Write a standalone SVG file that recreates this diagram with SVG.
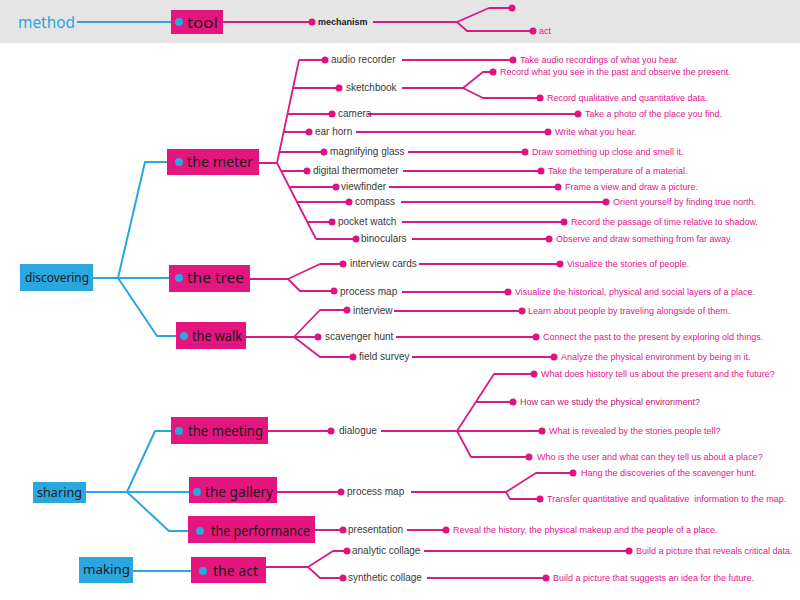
<svg xmlns="http://www.w3.org/2000/svg" width="800" height="600" viewBox="0 0 800 600">
<style>
.bg{fill:#ffffff}
.band{fill:#e5e5e5}
.pbox{fill:#e4157e}
.bbox{fill:#2aa7de}
.hand{font-family:"Noto Sans","DejaVu Sans",sans-serif;font-size:15px;fill:#1a1a1a}
.cat{font-family:"Noto Sans","DejaVu Sans",sans-serif;font-size:13px;fill:#1a1a1a}
.item{font-family:"Liberation Sans",Arial,sans-serif;font-size:10px;fill:#3a3a3a}
.desc{font-family:"Liberation Sans",Arial,sans-serif;font-size:9px;fill:#e0168a}
.desc2{font-family:"Liberation Sans",Arial,sans-serif;font-size:9px;fill:#c4106e}
.pl{fill:none;stroke:#d81b84;stroke-width:1.8;stroke-linejoin:round}
.bl{fill:none;stroke:#2aa7de;stroke-width:2;stroke-linejoin:round}
.pd{fill:#e0127f}
.bd{fill:#2aa7de}
</style>
<rect class="bg" x="0" y="0" width="800" height="600"/>
<rect class="band" x="0" y="0" width="800" height="43"/>

<g id="connectors">
  <!-- header -->
  <path class="bl" d="M77,22 H179"/>
  <path class="pl" d="M223,22 H312 M373,22 H457 L489,8 H512 M457,22 L467,31 H533"/>
  <!-- discovering -->
  <path class="bl" d="M93,278 H118 M118,278 L145,162 H179 M118,278 H179 M118,278 L157,336 H184"/>
  <!-- meter -->
  <path class="pl" d="M259,163 H277 M277,163 L299,60 M277,163 L316,239
    M299,60 H325 M293,88 H339 M287,114 H332 M284,132 H309 M279,152 H324
    M281,171 H307 M289,187 H336 M297,202 H349 M307,222 H332 M316,239 H356"/>
  <path class="pl" d="M402,60 H513 M402,88 H463 L483,72 H493 M463,88 L483,98 H540
    M368,114 H578 M356,132 H548 M408,152 H525 M403,171 H541 M389,187 H558
    M401,202 H606 M402,222 H564 M412,239 H549"/>
  <!-- tree -->
  <path class="pl" d="M250,279 H288 L320,264 H343 M288,279 L300,291 H334 M419,264 H560 M402,292 H508"/>
  <!-- walk -->
  <path class="pl" d="M246,337 H294 L320,310 H347 M294,337 H318 M294,337 L320,357 H353
    M394,311 H522 M396,337 H536 M412,357 H554"/>
  <!-- sharing -->
  <path class="bl" d="M86,492 H127 M127,492 L155,431 H179 M127,492 H197 M127,492 L169,531 H200"/>
  <!-- meeting -->
  <path class="pl" d="M268,431 H331 M381,431 H457 L494,374 H534 M476,402 H513 M457,431 H542 M457,431 L471,457 H529"/>
  <!-- gallery -->
  <path class="pl" d="M277,492 H341 M411,492 H506 L536,473 H573 M506,492 L510,499 H540"/>
  <!-- performance -->
  <path class="pl" d="M315,530 H343 M407,530 H446"/>
  <!-- making -->
  <path class="bl" d="M133,571 H203"/>
  <!-- act -->
  <path class="pl" d="M266,567 H308 L333,551 H347 M308,567 L320,578 H343 M424,551 H629 M427,578 H546"/>
  <!-- dots -->
  <g class="pd">
    <circle cx="312" cy="22" r="3.5"/><circle cx="512" cy="8" r="3.5"/><circle cx="533" cy="31" r="3.5"/>
    <circle cx="325" cy="60" r="3.5"/><circle cx="339" cy="88" r="3.5"/><circle cx="332" cy="114" r="3.5"/>
    <circle cx="309" cy="132" r="3.5"/><circle cx="324" cy="152" r="3.5"/><circle cx="307" cy="171" r="3.5"/>
    <circle cx="336" cy="187" r="3.5"/><circle cx="349" cy="202" r="3.5"/><circle cx="332" cy="222" r="3.5"/>
    <circle cx="356" cy="239" r="3.5"/>
    <circle cx="513" cy="60" r="3.5"/><circle cx="493" cy="72" r="3.5"/><circle cx="540" cy="98" r="3.5"/>
    <circle cx="578" cy="114" r="3.5"/><circle cx="548" cy="132" r="3.5"/><circle cx="525" cy="152" r="3.5"/>
    <circle cx="541" cy="171" r="3.5"/><circle cx="558" cy="187" r="3.5"/><circle cx="606" cy="202" r="3.5"/>
    <circle cx="564" cy="222" r="3.5"/><circle cx="549" cy="239" r="3.5"/>
    <circle cx="343" cy="264" r="3.5"/><circle cx="334" cy="291" r="3.5"/><circle cx="560" cy="264" r="3.5"/><circle cx="508" cy="292" r="3.5"/>
    <circle cx="347" cy="310" r="3.5"/><circle cx="318" cy="337" r="3.5"/><circle cx="353" cy="357" r="3.5"/>
    <circle cx="522" cy="311" r="3.5"/><circle cx="536" cy="337" r="3.5"/><circle cx="554" cy="357" r="3.5"/>
    <circle cx="331" cy="431" r="3.5"/><circle cx="534" cy="374" r="3.5"/><circle cx="513" cy="402" r="3.5"/>
    <circle cx="542" cy="431" r="3.5"/><circle cx="529" cy="457" r="3.5"/>
    <circle cx="341" cy="492" r="3.5"/><circle cx="573" cy="473" r="3.5"/><circle cx="540" cy="499" r="3.5"/>
    <circle cx="343" cy="530" r="3.5"/><circle cx="446" cy="530" r="3.5"/>
    <circle cx="347" cy="551" r="3.5"/><circle cx="343" cy="578" r="3.5"/><circle cx="629" cy="551" r="3.5"/><circle cx="546" cy="578" r="3.5"/>
  </g>
</g>

<g id="method"><text x="18" y="28" font-family="'Noto Sans','DejaVu Sans',sans-serif" font-size="17" fill="#2aa7de" textLength="57" lengthAdjust="spacingAndGlyphs">method</text></g>
<g id="tool"><rect class="pbox" x="171" y="10" width="52" height="24"/><circle class="bd" cx="179" cy="22" r="4"/><text class="hand" x="187" y="28" font-size="17" textLength="31" lengthAdjust="spacingAndGlyphs">tool</text></g>
<g id="mechanism"><text x="318" y="25" font-family="'Liberation Sans',Arial,sans-serif" font-size="9" font-weight="bold" fill="#222">mechanism</text></g>
<g id="act-label"><text class="desc" x="539" y="34">act</text></g>

<g id="discovering"><rect class="bbox" x="20" y="264" width="73" height="27"/><text class="cat" x="25" y="282" textLength="64" lengthAdjust="spacingAndGlyphs">discovering</text></g>
<g id="the-meter"><rect class="pbox" x="167" y="149" width="92" height="26"/><circle class="bd" cx="179" cy="162" r="4"/><text class="hand" x="187" y="167" textLength="66" lengthAdjust="spacingAndGlyphs">the meter</text></g>
<g id="the-tree"><rect class="pbox" x="169" y="265" width="81" height="27"/><circle class="bd" cx="179" cy="278" r="4"/><text class="hand" x="187" y="283" textLength="57" lengthAdjust="spacingAndGlyphs">the tree</text></g>
<g id="the-walk"><rect class="pbox" x="176" y="322" width="70" height="27"/><circle class="bd" cx="184" cy="336" r="4"/><text class="hand" x="192" y="341" textLength="50" lengthAdjust="spacingAndGlyphs">the walk</text></g>

<g id="meter-items">
  <text class="item" x="331" y="63">audio recorder</text>
  <text class="item" x="346" y="91">sketchbook</text>
  <text class="item" x="338" y="117">camera</text>
  <text class="item" x="315" y="135">ear horn</text>
  <text class="item" x="330" y="155">magnifying glass</text>
  <text class="item" x="313" y="174">digital thermometer</text>
  <text class="item" x="341" y="190">viewfinder</text>
  <text class="item" x="355" y="205">compass</text>
  <text class="item" x="338" y="225">pocket watch</text>
  <text class="item" x="361" y="242">binoculars</text>
</g>
<g id="meter-descs">
  <text class="desc" x="520" y="63">Take audio recordings of what you hear.</text>
  <text class="desc" x="500" y="75">Record what you see in the past and observe the present.</text>
  <text class="desc" x="547" y="101">Record qualitative and quantitative data.</text>
  <text class="desc" x="585" y="117">Take a photo of the place you find.</text>
  <text class="desc" x="555" y="135">Write what you hear.</text>
  <text class="desc" x="532" y="155">Draw something up close and smell it.</text>
  <text class="desc" x="548" y="174">Take the temperature of a material.</text>
  <text class="desc" x="565" y="190">Frame a view and draw a picture.</text>
  <text class="desc" x="613" y="205">Orient yourself by finding true north.</text>
  <text class="desc" x="571" y="225">Record the passage of time relative to shadow.</text>
  <text class="desc" x="556" y="242">Observe and draw something from far away.</text>
</g>
<g id="tree-items">
  <text class="item" x="350" y="267">interview cards</text>
  <text class="item" x="340" y="295">process map</text>
  <text class="desc" x="567" y="267">Visualize the stories of people.</text>
  <text class="desc" x="515" y="295">Visualize the historical, physical and social layers of a place.</text>
</g>
<g id="walk-items">
  <text class="item" x="353" y="314">interview</text>
  <text class="item" x="325" y="340">scavenger hunt</text>
  <text class="item" x="359" y="360">field survey</text>
  <text class="desc" x="528" y="314">Learn about people by traveling alongside of them.</text>
  <text class="desc" x="543" y="340">Connect the past to the present by exploring old things.</text>
  <text class="desc" x="561" y="360">Analyze the physical environment by being in it.</text>
</g>

<g id="sharing"><rect class="bbox" x="33" y="482" width="53" height="21"/><text class="cat" x="37" y="497" textLength="45" lengthAdjust="spacingAndGlyphs">sharing</text></g>
<g id="the-meeting"><rect class="pbox" x="171" y="417" width="97" height="27"/><circle class="bd" cx="179" cy="431" r="4"/><text class="hand" x="188" y="436" textLength="75" lengthAdjust="spacingAndGlyphs">the meeting</text></g>
<g id="the-gallery"><rect class="pbox" x="189" y="477" width="88" height="26"/><circle class="bd" cx="197" cy="492" r="4"/><text class="hand" x="205" y="497" textLength="68" lengthAdjust="spacingAndGlyphs">the gallery</text></g>
<g id="the-performance"><rect class="pbox" x="188" y="516" width="127" height="27"/><circle class="bd" cx="200" cy="531" r="4"/><text class="hand" x="211" y="536" textLength="99" lengthAdjust="spacingAndGlyphs">the performance</text></g>
<g id="making"><rect class="bbox" x="79" y="557" width="54" height="26"/><text class="cat" x="83" y="574" textLength="47" lengthAdjust="spacingAndGlyphs">making</text></g>
<g id="the-act"><rect class="pbox" x="191" y="557" width="75" height="26"/><circle class="bd" cx="203" cy="571" r="4"/><text class="hand" x="213" y="576" textLength="45" lengthAdjust="spacingAndGlyphs">the act</text></g>

<g id="meeting-items">
  <text class="item" x="339" y="434">dialogue</text>
  <text class="desc" x="541" y="377">What does history tell us about the present and the future?</text>
  <text class="desc2" x="520" y="405">How can we study the physical environment?</text>
  <text class="desc" x="549" y="434">What is revealed by the stories people tell?</text>
  <text class="desc" x="537" y="460">Who is the user and what can they tell us about a place?</text>
</g>
<g id="gallery-items">
  <text class="item" x="347" y="495">process map</text>
  <text class="desc" x="581" y="476">Hang the discoveries of the scavenger hunt.</text>
  <text class="desc" x="547" y="502" style="white-space:pre">Transfer quantitative and qualitative  information to the map.</text>
</g>
<g id="performance-items">
  <text class="item" x="348" y="533">presentation</text>
  <text class="desc" x="453" y="533">Reveal the history, the physical makeup and the people of a place.</text>
</g>
<g id="act-items">
  <text class="item" x="352" y="554">analytic collage</text>
  <text class="item" x="348" y="581">synthetic collage</text>
  <text class="desc" x="636" y="554">Build a picture that reveals critical data.</text>
  <text class="desc" x="553" y="581">Build a picture that suggests an idea for the future.</text>
</g>
</svg>
